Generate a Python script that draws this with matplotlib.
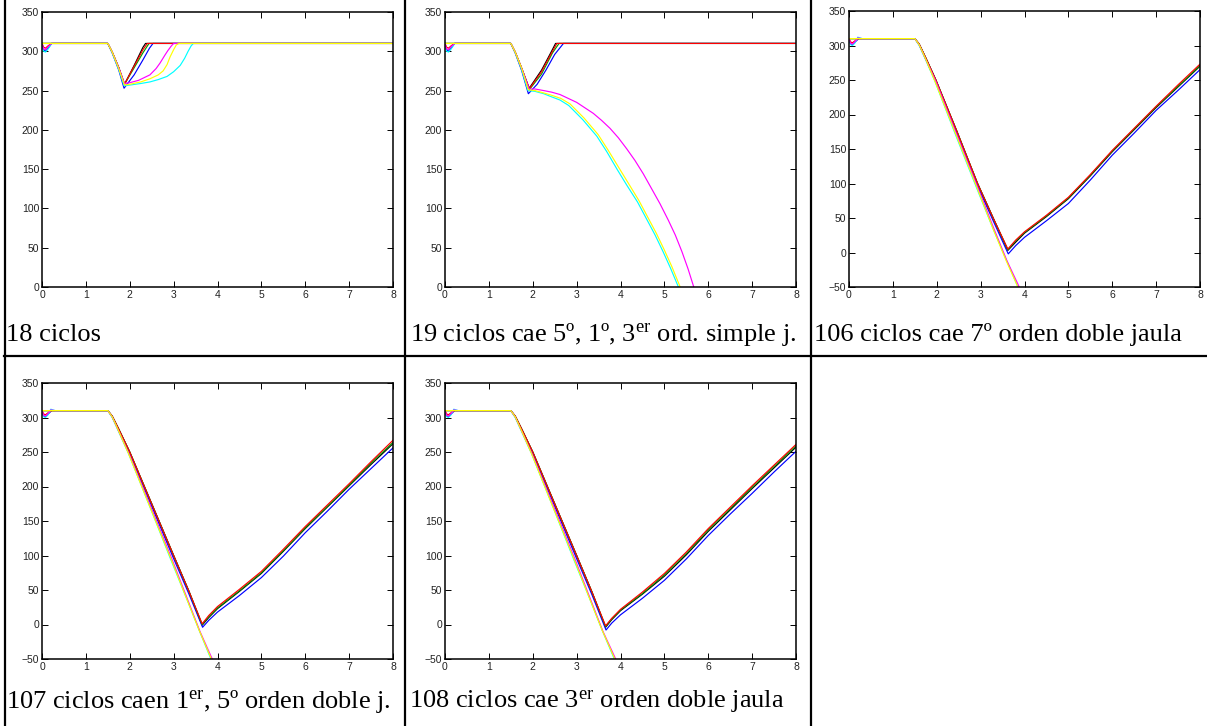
import matplotlib
matplotlib.use("Agg")
import matplotlib.pyplot as plt
from matplotlib.lines import Line2D

plt.rcParams['mathtext.fontset'] = 'custom'
plt.rcParams['mathtext.rm'] = 'Liberation Serif'
plt.rcParams['mathtext.it'] = 'Liberation Serif:italic'

# ---------------- data ----------------
CAPTIONS = [
    "18 ciclos",
    r"19 ciclos cae 5º, 1º, 3$^{\mathrm{er}}$ ord. simple j.",
    "106 ciclos cae 7º orden doble jaula",
    r"107 ciclos caen 1$^{\mathrm{er}}$, 5º orden doble j.",
    r"108 ciclos cae 3$^{\mathrm{er}}$ orden doble jaula",
]
XTICKS = [0, 1, 2, 3, 4, 5, 6, 7, 8]
YTICKS_A = [0, 50, 100, 150, 200, 250, 300, 350]
YTICKS_B = [-50, 0, 50, 100, 150, 200, 250, 300, 350]

# panel "18 ciclos": colour -> (time, speed)
P18 = {
    'k': ([0, 1.5, 1.6, 1.75, 1.88, 2.1, 2.3, 2.36, 8],
          [310, 310, 299, 279, 258, 282, 305, 310, 310]),
    'b': ([0, 0.04, 0.08, 0.14, 0.22, 1.5, 1.6, 1.75, 1.87, 2.1, 2.3, 2.45, 2.53, 8],
          [307, 302, 300, 304, 310, 310, 298, 276, 253, 270, 289, 304, 310, 310]),
    'g': ([0, 1.5, 1.6, 1.75, 1.88, 2.1, 2.3, 2.44, 8],
          [310, 310, 299, 279, 258, 279, 298, 310, 310]),
    'r': ([0, 0.04, 0.08, 0.14, 0.22, 1.5, 1.6, 1.75, 1.88, 2.1, 2.3, 2.4, 8],
          [310, 305, 304, 307, 310, 310, 299, 279, 258, 281, 302, 310, 310]),
    'c': ([0, 0.04, 0.08, 0.14, 0.22, 1.5, 1.6, 1.75, 1.87, 2.0, 2.25, 2.46, 2.65, 2.85, 3.0, 3.15, 3.25, 3.33, 3.4, 3.45, 8],
          [306, 300, 299, 303, 310, 310, 298, 277, 256, 257, 259, 261, 264, 268, 274, 282, 291, 300, 307, 310, 310]),
    'm': ([0, 0.04, 0.08, 0.14, 0.22, 1.5, 1.6, 1.75, 1.88, 2.0, 2.2, 2.46, 2.6, 2.69, 2.8, 2.87, 2.95, 3.0, 8],
          [309, 303, 302, 306, 310, 310, 299, 279, 259, 260, 263, 270, 278, 285, 295, 301, 307, 310, 310]),
    'y': ([0, 1.5, 1.6, 1.75, 1.88, 2.0, 2.25, 2.46, 2.65, 2.76, 2.85, 2.92, 3.0, 3.06, 3.12, 8],
          [310, 310, 299, 278, 257, 258, 261, 265, 270, 275, 283, 293, 302, 308, 310, 310]),
}

# panel "19 ciclos"
P19 = {
    'k': ([0, 1.5, 1.6, 1.75, 1.92, 2.2, 2.4, 2.52, 8],
          [310, 310, 299, 278, 253, 276, 297, 310, 310]),
    'b': ([0, 0.04, 0.08, 0.14, 0.22, 1.5, 1.6, 1.75, 1.9, 2.1, 2.3, 2.5, 2.7, 8],
          [307, 302, 300, 304, 310, 310, 298, 275, 246, 258, 276, 296, 310, 310]),
    'g': ([0, 1.5, 1.6, 1.75, 1.92, 2.2, 2.45, 2.6, 8],
          [310, 310, 299, 278, 251, 271, 298, 310, 310]),
    'r': ([0, 0.04, 0.08, 0.14, 0.22, 1.5, 1.6, 1.75, 1.92, 2.2, 2.4, 2.55, 8],
          [310, 305, 304, 307, 310, 310, 299, 278, 252, 274, 295, 310, 310]),
    'c': ([0, 0.04, 0.08, 0.14, 0.22, 1.5, 1.6, 1.75, 1.89, 2.05, 2.25, 2.43, 2.62, 2.82, 3.14, 3.46, 3.69, 3.92, 4.15, 4.39, 4.59, 4.79, 4.97, 5.14, 5.32],
          [306, 300, 299, 303, 310, 310, 298, 276, 250, 249, 246, 242, 238, 231, 213, 192, 172, 150, 129, 108, 87, 66, 45, 24, 0]),
    'm': ([0, 0.04, 0.08, 0.14, 0.22, 1.5, 1.6, 1.75, 1.92, 2.05, 2.25, 2.43, 2.62, 2.81, 3.0, 3.19, 3.38, 3.57, 3.76, 3.95, 4.14, 4.33, 4.52, 4.71, 4.9, 5.09, 5.25, 5.4, 5.54, 5.67],
          [309, 303, 302, 306, 310, 310, 299, 278, 252, 252, 250, 248, 245, 240, 235, 228, 221, 212, 202, 190, 176, 161, 144, 125, 106, 85, 66, 45, 23, 0]),
    'y': ([0, 1.5, 1.6, 1.75, 1.9, 2.05, 2.25, 2.43, 2.64, 2.85, 3.17, 3.49, 3.72, 3.95, 4.18, 4.42, 4.62, 4.82, 5.0, 5.17, 5.36],
          [310, 310, 299, 278, 251, 250, 247, 244, 240, 233, 215, 194, 174, 153, 132, 110, 89, 68, 47, 26, 0]),
}

# panel "106 ciclos"
P106 = {
    'k': ([0, 1.5, 1.6, 1.75, 1.98, 2.45, 2.93, 3.3, 3.62, 3.8, 4.0, 4.5, 5.0, 5.5, 6.0, 6.5, 7.0, 7.5, 8.0],
          [310, 310, 302, 282, 250, 177, 100, 48, 3, 15, 28, 52, 78, 111, 146, 178, 210, 240, 270]),
    'b': ([0, 0.04, 0.08, 0.14, 0.22, 1.5, 1.6, 1.75, 1.97, 2.44, 2.92, 3.3, 3.63, 3.8, 4.0, 4.5, 5.0, 5.5, 6.0, 6.5, 7.0, 7.5, 8.0],
          [307, 302, 301, 305, 310, 310, 301, 280, 249, 176, 98, 44, -2, 10, 22, 46, 71, 105, 141, 173, 206, 235, 265]),
    'g': ([0, 1.5, 1.6, 1.75, 1.98, 2.45, 2.93, 3.3, 3.62, 3.8, 4.0, 4.5, 5.0, 5.5, 6.0, 6.5, 7.0, 7.5, 8.0],
          [310, 310, 302, 282, 250, 177, 100, 48, 4, 17, 29, 53, 79, 112, 147, 179, 211, 241, 271]),
    'r': ([0, 0.04, 0.08, 0.14, 0.22, 1.5, 1.6, 1.75, 1.98, 2.45, 2.93, 3.3, 3.62, 3.8, 4.0, 4.5, 5.0, 5.5, 6.0, 6.5, 7.0, 7.5, 8.0],
          [310, 305, 304, 307, 310, 310, 302, 282, 250, 177, 100, 48, 5, 18, 30, 54, 80, 113, 148, 180, 212, 243, 273]),
    'c': ([0, 0.04, 0.08, 0.14, 0.2, 0.3, 1.5, 1.6, 1.75, 1.96, 2.42, 2.9, 3.28, 3.58, 3.85],
          [308, 301, 300, 304, 312, 310, 310, 300, 279, 248, 172, 95, 35, -10, -50]),
    'm': ([0, 0.04, 0.08, 0.14, 0.2, 0.3, 1.5, 1.6, 1.75, 1.98, 2.45, 2.93, 3.3, 3.6, 3.88],
          [309, 303, 302, 306, 311, 310, 310, 301, 280, 248, 172, 95, 35, -12, -50]),
    'y': ([0, 1.5, 1.6, 1.75, 1.96, 2.43, 2.91, 3.28, 3.57, 3.85],
          [310, 310, 301, 280, 248, 172, 95, 35, -10, -50]),
}

# panel "107 ciclos"
P107 = {
    'k': ([0, 1.5, 1.6, 1.75, 2.0, 2.5, 3.0, 3.35, 3.65, 3.8, 4.0, 4.5, 5.0, 5.5, 6.0, 6.5, 7.0, 7.5, 8.0],
          [310, 310, 302, 283, 250, 175, 100, 48, -1, 10, 23, 48, 74, 106, 139, 170, 201, 232, 262]),
    'b': ([0, 0.04, 0.08, 0.14, 0.22, 1.5, 1.6, 1.75, 1.99, 2.49, 2.99, 3.35, 3.66, 3.8, 4.0, 4.5, 5.0, 5.5, 6.0, 6.5, 7.0, 7.5, 8.0],
          [307, 302, 301, 305, 310, 310, 301, 281, 249, 173, 97, 44, -4, 6, 18, 42, 68, 99, 133, 164, 196, 226, 256]),
    'g': ([0, 1.5, 1.6, 1.75, 2.0, 2.5, 3.0, 3.35, 3.65, 3.8, 4.0, 4.5, 5.0, 5.5, 6.0, 6.5, 7.0, 7.5, 8.0],
          [310, 310, 302, 283, 250, 175, 100, 48, 0, 11, 24, 49, 75, 107, 140, 171, 202, 234, 264]),
    'r': ([0, 0.04, 0.08, 0.14, 0.22, 1.5, 1.6, 1.75, 2.0, 2.5, 3.0, 3.35, 3.65, 3.8, 4.0, 4.5, 5.0, 5.5, 6.0, 6.5, 7.0, 7.5, 8.0],
          [310, 305, 304, 307, 310, 310, 302, 283, 250, 175, 100, 48, 1, 13, 26, 51, 77, 109, 142, 173, 204, 236, 267]),
    'c': ([0, 0.04, 0.08, 0.14, 0.2, 0.3, 1.5, 1.6, 1.75, 1.97, 2.45, 2.93, 3.3, 3.58, 3.85],
          [308, 301, 300, 304, 312, 310, 310, 300, 279, 248, 172, 95, 37, -8, -50]),
    'm': ([0, 0.04, 0.08, 0.14, 0.2, 0.3, 1.5, 1.6, 1.75, 1.98, 2.47, 2.96, 3.32, 3.6, 3.88],
          [309, 303, 302, 306, 311, 310, 310, 301, 280, 248, 172, 95, 36, -10, -50]),
    'y': ([0, 1.5, 1.6, 1.75, 1.97, 2.45, 2.94, 3.3, 3.58, 3.86],
          [310, 310, 301, 280, 248, 172, 95, 37, -8, -50]),
}

# panel "108 ciclos"
P108 = {
    'k': ([0, 1.5, 1.6, 1.75, 2.0, 2.5, 3.0, 3.35, 3.66, 3.8, 4.0, 4.5, 5.0, 5.5, 6.0, 6.5, 7.0, 7.5, 8.0],
          [310, 310, 302, 283, 250, 175, 100, 47, -4, 7, 20, 44, 70, 101, 135, 166, 197, 227, 257]),
    'b': ([0, 0.04, 0.08, 0.14, 0.22, 1.5, 1.6, 1.75, 1.99, 2.49, 2.99, 3.35, 3.67, 3.8, 4.0, 4.5, 5.0, 5.5, 6.0, 6.5, 7.0, 7.5, 8.0],
          [307, 302, 301, 305, 310, 310, 301, 281, 249, 173, 97, 43, -8, 2, 14, 38, 64, 95, 129, 160, 190, 221, 251]),
    'g': ([0, 1.5, 1.6, 1.75, 2.0, 2.5, 3.0, 3.35, 3.66, 3.8, 4.0, 4.5, 5.0, 5.5, 6.0, 6.5, 7.0, 7.5, 8.0],
          [310, 310, 302, 283, 250, 175, 100, 47, -3, 8, 21, 45, 72, 103, 137, 168, 199, 229, 259]),
    'r': ([0, 0.04, 0.08, 0.14, 0.22, 1.5, 1.6, 1.75, 2.0, 2.5, 3.0, 3.35, 3.66, 3.8, 4.0, 4.5, 5.0, 5.5, 6.0, 6.5, 7.0, 7.5, 8.0],
          [310, 305, 304, 307, 310, 310, 302, 283, 250, 175, 100, 47, -2, 9, 22, 47, 74, 105, 139, 170, 201, 231, 261]),
    'c': ([0, 0.04, 0.08, 0.14, 0.2, 0.3, 1.5, 1.6, 1.75, 1.97, 2.45, 2.93, 3.3, 3.58, 3.86],
          [308, 301, 300, 304, 312, 310, 310, 300, 279, 248, 172, 95, 37, -8, -50]),
    'm': ([0, 0.04, 0.08, 0.14, 0.2, 0.3, 1.5, 1.6, 1.75, 1.98, 2.47, 2.96, 3.32, 3.6, 3.89],
          [309, 303, 302, 306, 311, 310, 310, 301, 280, 248, 172, 95, 36, -10, -50]),
    'y': ([0, 1.5, 1.6, 1.75, 1.97, 2.45, 2.94, 3.3, 3.58, 3.87],
          [310, 310, 301, 280, 248, 172, 95, 37, -8, -50]),
}

PANELS = [P18, P19, P106, P107, P108]
YLIMS = [(0, 350), (0, 350), (-50, 350), (-50, 350), (-50, 350)]
YTICKS = [YTICKS_A, YTICKS_A, YTICKS_B, YTICKS_B, YTICKS_B]

COLORS = {'k': '#000000', 'b': '#0000ff', 'g': '#00a000', 'r': '#ff0000',
          'c': '#00ffff', 'm': '#ff00ff', 'y': '#ffff00'}
ORDER = ['k', 'b', 'g', 'r', 'c', 'm', 'y']

# ---------------- layout ----------------
W, H = 1207, 726
fig = plt.figure(figsize=(W / 100, H / 100), dpi=100)

# axes boxes in pixels: (left, top, right, bottom)
BOXES = [(42, 12, 393, 287), (445, 12, 796, 287), (849, 11, 1200, 287),
         (42, 383, 393, 659), (445, 383, 796, 659)]
CAP_POS = [(6, 340.5), (410, 340.5), (814, 340.5), (6, 708), (409, 708)]

for i, (panel, box) in enumerate(zip(PANELS, BOXES)):
    l, t, r, b = box
    ax = fig.add_axes([l / W, 1 - b / H, (r - l) / W, (b - t) / H])
    for c in ORDER:
        tt, vv = panel[c]
        ax.plot(tt, vv, color=COLORS[c], lw=0.85)
    ax.set_xlim(0, 8)
    ax.set_ylim(*YLIMS[i])
    ax.set_xticks(XTICKS)
    ax.set_yticks(YTICKS[i])
    ax.tick_params(direction='in', length=4, width=0.7, top=True, right=True,
                   labelsize=7.5, pad=2, colors='black')
    for lab in ax.get_xticklabels() + ax.get_yticklabels():
        lab.set_fontfamily('Liberation Sans')
        lab.set_color('#222222')
    for sp in ax.spines.values():
        sp.set_linewidth(1.1)
    cx, cy = CAP_POS[i]
    fig.text(cx / W, 1 - cy / H, CAPTIONS[i], ha='left', va='baseline',
             fontsize=19, fontfamily='Liberation Serif')

# table borders
def hline(y, x0, x1):
    fig.add_artist(Line2D([x0 / W, x1 / W], [1 - y / H, 1 - y / H], color='black', lw=1.6))

def vline(x, y0, y1):
    fig.add_artist(Line2D([x / W, x / W], [1 - y0 / H, 1 - y1 / H], color='black', lw=1.6))

vline(4.5, 0, H)
vline(405, 0, H)
vline(811, 0, H)
hline(356, 4, W)

fig.savefig("out.png", dpi=100)
